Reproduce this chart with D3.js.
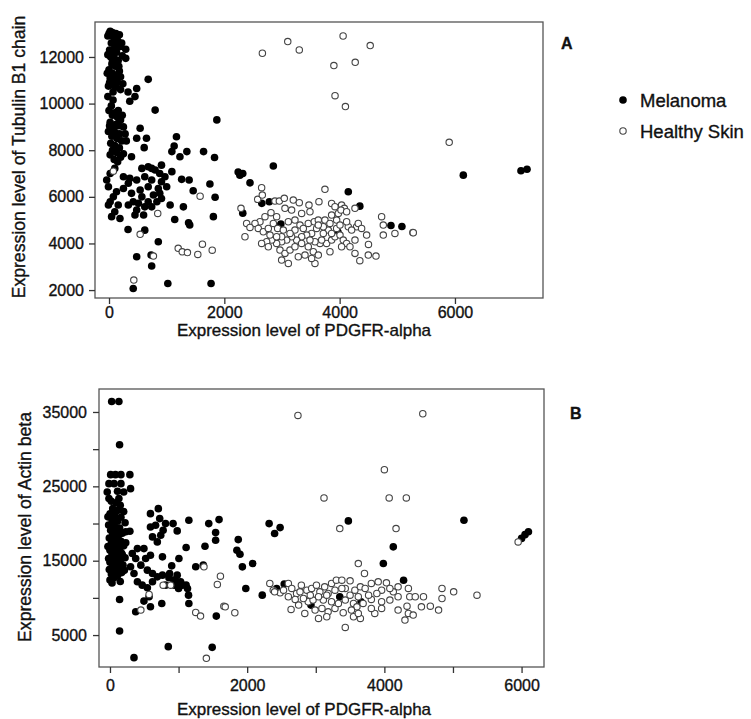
<!DOCTYPE html>
<html>
<head>
<meta charset="utf-8">
<script src="https://cdn.jsdelivr.net/npm/d3@7"></script>
<style>
  body { margin: 0; background: #fff; }
  text { font-family: "Liberation Sans", Arial, sans-serif; fill: #111; stroke: #111; stroke-width: 0.35px; }
</style>
</head>
<body>
<script>
// Donnees : [PDGFR-alpha, autre gene]

var melanomaA = [
  [20,13100],[60,13050],[120,13000],[180,12950],[-20,12900],[80,12850],[150,12700],[40,12600],[100,12500],[200,12450],
  [10,12300],[70,12250],[130,12200],[220,12600],[30,12000],[90,11950],[160,11850],[50,11700],[110,11600],[0,11450],
  [180,11400],[60,11300],[130,11200],[20,11100],[90,11000],[150,10900],[40,10800],[110,10700],[200,10600],[-10,10750],
  [70,10500],[240,10850],[170,11600],[230,12050],[-20,12100],[100,12750],[0,13000],[140,12400],[60,11800],[-30,11300],
  [200,11150],[10,10900],[290,12330],[290,11940],[680,11040],[330,10500],[450,10300],[360,10100],[480,10650],[800,9720],
  [1870,9300],[40,9900],[0,9700],[100,9600],[60,9500],[150,9400],[200,9300],[20,9200],[120,9100],[250,9000],
  [80,8900],[-10,8800],[180,8700],[50,8600],[140,8500],[220,8400],[30,8300],[100,8200],[180,8100],[60,8000],
  [130,7900],[250,7850],[200,7700],[90,7600],[150,7500],[280,8700],[300,8400],[10,9050],[160,9700],[70,10150],
  [-20,10300],[230,9500],[110,8750],[20,7800],[170,9050],[540,8940],[480,8510],[650,8510],[610,8110],[390,7720],
  [1170,8580],[1130,8180],[1090,7940],[1230,7720],[1350,7940],[1640,7940],[1830,7690],[910,7360],[740,7220],[1090,7080],
  [1260,6750],[1390,6720],[1750,6550],[1460,6260],[1840,5980],[1810,5150],[1290,5570],[1140,5030],[1380,4890],[1400,4790],
  [1060,5650],[855,4070],[620,4570],[330,4600],[480,3430],[730,3500],[740,3030],[420,2070],[1020,2280],[1770,2280],
  [570,7220],[680,7290],[800,7150],[880,7000],[970,6860],[620,6860],[480,6720],[335,6580],[250,6360],[740,6720],
  [910,6650],[1000,6430],[855,6360],[680,6430],[540,6290],[390,6150],[570,6000],[770,6080],[880,6150],[830,5790],
  [680,5790],[510,5720],[420,5790],[620,5570],[480,5430],[335,5650],[910,5930],[740,5570],[600,5220],[450,5220],
  [250,6860],[360,6790],[-10,6430],[75,6000],[20,5790],[160,5650],[100,5360],[190,5070],[45,5150],[20,7000],
  [100,7220],[-40,6720],[130,6220],[-10,5650],
  [2240,7060],[2270,6930],[2320,7000],[2850,7320],[2445,6600],[2320,5300],[2650,5720],[2780,5790],[2980,4830],[2900,4230],
  [4150,6220],[4350,5600],[3970,4490],[4890,4770],[5080,4730],[6145,6930],[7145,7120],[7250,7180]
];

var healthyA = [
  [75,7100],[1580,6030],[845,5290],[540,4390],[770,3460],[1200,3790],[1270,3640],[1360,3610],[1540,3530],[1620,3970],
  [1790,3710],[430,2430],
  [2660,12160],[3100,12660],[3300,12300],[4060,12900],[4530,12490],[3900,11630],[4270,11770],[3920,10340],[4100,9870],
  [5900,8340],[5270,4470],[4500,3960],[4350,3260],[4630,3460],
  [2647,6392],[3745,6320],[2578,5891],[2659,6077],[2289,5505],[2878,5819],[2954,5819],[3040,5934],[3196,5862],[3300,5748],
  [3468,5648],[3641,5791],[3861,5719],[4034,5648],[4081,5505],[4266,5505],[3485,5361],[3341,5290],[3167,5433],[3052,5505],
  [2809,5319],[2907,5147],[2705,5147],[2618,4932],[2532,4861],[2387,4861],[2445,4689],[2358,4288],[2589,4646],[2676,4503],
  [2763,4646],[2850,4861],[2925,4646],[3023,4574],[3110,4932],[3225,5004],[3312,4789],[3370,4646],[3456,4861],[3560,4932],
  [3630,5004],[3745,5004],[3861,5218],[3948,5004],[3977,5290],[4023,5433],[3832,4861],[3803,4574],[3717,4431],[3601,4646],
  [3514,4431],[3428,4360],[3341,4288],[3254,4145],[3167,4288],[3081,4145],[2994,4073],[2907,4002],[2821,4145],[2734,4073],
  [2647,4002],[2763,3859],[2965,3716],[3052,3573],[3139,3716],[3225,3859],[3341,4002],[3456,3859],[3543,3644],[3659,4002],
  [3774,4002],[3861,4145],[3919,4288],[4006,4360],[4063,4145],[4121,4002],[4179,3859],[4266,4145],[4295,4717],[4323,4861],
  [4381,4646],[4468,4360],[4266,3573],[4497,3501],[4728,5147],[4757,4789],[4757,4360],[4959,4431],[5277,4460],[4034,3859],
  [3832,3644],[3630,3501],[3572,3143],[3110,3143],[2994,3286],[3283,3430],[3514,3358],[3399,3501],[3225,4574],[3139,4431],
  [2994,4288],[2907,4288],[2792,4360],[3688,4145],[3572,4073],[3485,4145],[3861,4431],[3948,4646],[4150,4717],[4208,4574],
  [4121,4932],[4006,4789],[3717,4717],[3630,4789],[3919,5576],[4121,5361]
];

var melanomaB = [
  [25,36400],[130,36400],[140,30600],[10,26570],[80,26570],[160,26570],[290,26570],[-15,25360],[60,25360],[160,25360],
  [-40,24240],[110,24330],[200,24240],[300,24690],[-15,23350],[130,23350],
  [20,23000],[90,22800],[150,22450],[40,22000],[120,21800],[200,21600],[0,21300],[70,21000],[160,20850],[30,20500],
  [110,20300],[220,20100],[-20,19800],[60,19650],[140,19400],[10,19100],[90,18950],[180,18700],[40,18500],[120,18300],
  [-10,18050],[70,17800],[160,17600],[20,17350],[100,17200],[200,17000],[50,16800],[140,16600],[0,16400],[80,16250],
  [170,16000],[30,15800],[110,15600],[220,15400],[60,15200],[150,15000],[0,14800],[90,14600],[190,14400],[40,14200],
  [130,14000],[-10,13800],[70,13600],[170,13400],[20,13200],[110,13000],[60,12700],[0,12400],[150,12200],[30,12000],
  [-30,20900],[230,18900],[-30,16900],[230,17400],[80,21600],[180,15800],[-20,15300],[120,14500],[210,13700],[50,19200],
  [290,18960],[140,9790],[140,5540],[350,1960],
  [590,21330],[705,22000],[725,20660],[665,19770],[810,19990],[920,19990],[980,19010],[775,19100],[740,18420],[620,18200],
  [690,17530],[590,19540],[1150,20440],[1440,19990],[1590,20530],[1540,18780],[1540,17750],[1385,16950],[1110,16770],[1005,15290],
  [900,14310],[765,15520],[590,15740],[495,16630],[400,16630],[325,15960],[375,15290],[520,15290],[450,14400],[300,14180],
  [350,13280],[545,13730],[620,13280],[690,12830],[765,13060],[860,12700],[980,13060],[980,12160],[1055,11710],[1130,11270],
  [1145,10370],[1150,9250],[620,12160],[545,11360],[470,11710],[400,12160],[570,10150],[495,9570],[590,8800],[375,8130],
  [755,9250],[870,13280],[940,11710],[1030,12160],[810,11710],[1250,14180],[1360,14400],[1110,11710],[930,12390],[1000,11270],
  [1550,7550],[850,3440],[1490,3350],
  [2320,19990],[2480,19450],[2400,18650],[1870,17840],[1850,16410],[1895,15870],[2080,14620],[1930,14170],[1980,11270],[2220,10370],
  [2430,11270],[2540,11850],[3475,20350],[4130,16860],[3985,14620],[4280,12380],[3350,10150],[3660,9480],[2930,9030],[5160,20440],
  [6000,18000],[6050,18500],[6100,18900]
];

var healthyB = [
  [1370,14180],[1610,12920],[1565,11800],[775,11710],[885,11710],[570,10460],[450,8360],[1250,8040],[1320,7550],[1660,8890],
  [1405,1870],[1820,8000],[1680,8800],[2640,8450],
  [2740,34530],[4560,34760],[4000,27240],[3120,23440],[4070,23440],[4320,23440],[3350,19320],[4170,19320],[5950,17530],[5350,10370],
  [3620,14620],[3710,13280],
  [2330,11940],[2380,11040],[2480,10680],[2600,11940],[2650,11270],[2720,10590],[2790,11710],[2870,11040],[2940,11270],[3010,11710],
  [3060,10820],[3130,11490],[3180,10590],[3230,11940],[3300,12380],[3380,12380],[3500,12290],[3430,11270],[3500,10370],[3570,11040],
  [3650,11490],[3720,11270],[3810,11940],[3910,12160],[4030,12030],[3960,11040],[3890,10590],[3810,9790],[3960,9480],[4080,9700],
  [4200,10150],[4350,11270],[4370,10150],[4450,10150],[4570,10150],[4330,8890],[4540,8800],[4670,8890],[4790,8360],[4840,11270],
  [4840,9920],[5010,10820],[4350,7910],[4420,7690],[4300,7020],[4200,8360],[3860,7910],[3650,7240],[3550,7460],[3400,8000],
  [3280,8580],[3180,8130],[3090,8580],[2990,8360],[2840,7910],[3040,7240],[3160,7460],[3430,6030],[2890,9480],[2820,9920],
  [2700,9790],[2600,10150],[2750,9030],[2960,9700],[3110,9700],[3230,9480],[3330,9250],[3430,9700],[3550,9250],[3600,8800],
  [3690,9250],[3770,10370],[3620,10150],[3380,11270],[3280,11040],[3160,10370],[3040,10150],[2920,10370],[2770,10820],[2530,11040],
  [2400,10820],[4130,10820],[4200,11490],[4080,11270],[3810,8580],[3960,8580],[3620,7910],[3520,8360]
];

// Graduations
var xTicksA = [0, 2000, 4000, 6000];
var yTicksA = [2000, 4000, 6000, 8000, 10000, 12000];
var xTicksB = [0, 1000, 2000, 3000, 4000, 5000, 6000];
var yTicksB = [5000, 10000, 15000, 20000, 25000, 30000, 35000];

var w = 751;
var h = 719;

var svg = d3.select("body")
  .append("svg")
  .attr("width", w)
  .attr("height", h);

function panneau(p) {
  var x = d3.scaleLinear().domain(p.xDom).range([p.left, p.right]);
  var y = d3.scaleLinear().domain(p.yDom).range([p.bottom, p.top]);

  var g = svg.append("g");

  // cadre
  g.append("rect")
    .attr("x", p.left)
    .attr("y", p.top)
    .attr("width", p.right - p.left)
    .attr("height", p.bottom - p.top)
    .style("fill", "none")
    .style("stroke", "#555")
    .style("stroke-width", 1.3);

  var xAxis = d3.axisBottom(x)
    .tickValues(p.xTicks)
    .tickSize(6)
    .tickSizeOuter(0)
    .tickPadding(p.xPad)
    .tickFormat(function(d) { return d % 2000 == 0 ? d : ""; });

  var gx = g.append("g")
    .attr("transform", "translate(0," + p.bottom + ")")
    .call(xAxis);

  var yAxis = d3.axisLeft(y)
    .tickValues(p.yTicks)
    .tickSize(6)
    .tickSizeOuter(0)
    .tickPadding(p.yPad)
    .tickFormat(p.yFormat);

  var gy = g.append("g")
    .attr("transform", "translate(" + p.left + ",0)")
    .call(yAxis);

  [gx, gy].forEach(function(a) {
    a.select(".domain").remove();
    a.selectAll(".tick line").style("stroke", "#333").style("stroke-width", 1.3);
    a.selectAll(".tick text")
      .style("font-family", "Liberation Sans, Arial, sans-serif")
      .style("font-size", "16px")
      .style("fill", "#111");
  });

  // titres
  g.append("text")
    .text("Expression level of PDGFR-alpha")
    .attr("x", p.xTitleX)
    .attr("y", p.xTitleY)
    .attr("text-anchor", "middle")
    .style("font-size", "17px");

  g.append("text")
    .text(p.yTitle)
    .attr("transform", "translate(" + p.yTitleX + "," + p.yTitleC + ") rotate(-90)")
    .attr("text-anchor", "middle")
    .style("font-size", "17.6px");

  g.append("text")
    .text(p.label)
    .attr("x", p.labelX)
    .attr("y", p.labelY)
    .style("font-weight", "bold")
    .style("font-size", "16px");

  // points
  g.selectAll(".mel")
    .data(p.mel)
    .enter()
    .append("circle")
    .attr("cx", function(d) { return x(d[0]); })
    .attr("cy", function(d) { return y(d[1]); })
    .attr("r", 3.8)
    .style("fill", "#000");

  g.selectAll(".sain")
    .data(p.sain)
    .enter()
    .append("circle")
    .attr("cx", function(d) { return x(d[0]); })
    .attr("cy", function(d) { return y(d[1]); })
    .attr("r", 3.2)
    .style("fill", "#fff")
    .style("stroke", "#444")
    .style("stroke-width", 1.1);
}

panneau({
  left: 95, right: 543, top: 22, bottom: 298,
  xDom: [-243, 7527], yDom: [1660, 13500],
  xTicks: xTicksA, yTicks: yTicksA,
  xPad: 3, yPad: 5,
  yFormat: function(d) { return d; },
  xTitleX: 304, xTitleY: 336,
  yTitle: "Expression level of Tubulin B1 chain", yTitleX: 25, yTitleC: 157,
  label: "A", labelX: 561, labelY: 49,
  mel: melanomaA, sain: healthyA
});

panneau({
  left: 99, right: 544, top: 389, bottom: 667,
  xDom: [-160, 6327], yDom: [705, 38090],
  xTicks: xTicksB, yTicks: yTicksB,
  xPad: 7, yPad: 6,
  yFormat: function(d) { return d % 10000 == 5000 ? d : ""; },
  xTitleX: 304, xTitleY: 715,
  yTitle: "Expression level of Actin beta", yTitleX: 31, yTitleC: 527,
  label: "B", labelX: 570, labelY: 419,
  mel: melanomaB, sain: healthyB
});

// legende
var legende = svg.append("g");

legende.append("circle")
  .attr("cx", 623).attr("cy", 100).attr("r", 3.8)
  .style("fill", "#000");

legende.append("text")
  .text("Melanoma")
  .attr("x", 640).attr("y", 106.5)
  .style("font-size", "18.5px");

legende.append("circle")
  .attr("cx", 623).attr("cy", 131).attr("r", 3.2)
  .style("fill", "#fff").style("stroke", "#444").style("stroke-width", 1.1);

legende.append("text")
  .text("Healthy Skin")
  .attr("x", 640).attr("y", 137.5)
  .style("font-size", "18.5px");
</script>
</body>
</html>
